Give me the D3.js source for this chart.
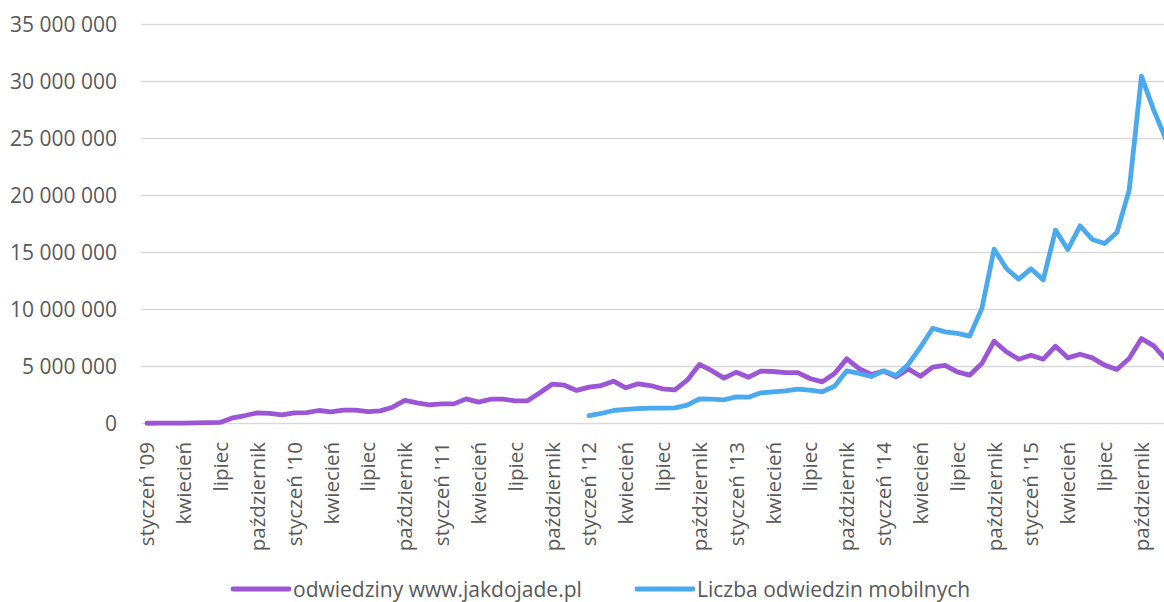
<!DOCTYPE html>
<html>
<head>
<meta charset="utf-8">
<script src="https://cdn.jsdelivr.net/npm/d3@7"></script>
<style>
  body { margin: 0; background: #fff; }
  svg { display: block; font-family: "Open Sans", sans-serif; }
  .grid line { stroke: #d9d9d9; stroke-width: 1.3; }
  .tick-y { fill: #595959; font-size: 21px; text-anchor: end; }
  .tick-x { fill: #595959; font-size: 20.5px; text-anchor: end; }
  .legend text { fill: #595959; font-size: 21px; }
  .series { fill: none; stroke-width: 4.8; stroke-linejoin: round; stroke-linecap: round; }
</style>
</head>
<body>
<svg width="1164" height="602"></svg>
<script>
// months from styczeń 2009 to grudzień 2015
const months = d3.timeMonth.range(new Date(2009, 0, 1), new Date(2016, 0, 1));

// labels shown under every third month
const tickLabels = [
  "styczeń '09", "kwiecień", "lipiec", "październik",
  "styczeń '10", "kwiecień", "lipiec", "październik",
  "styczeń '11", "kwiecień", "lipiec", "październik",
  "styczeń '12", "kwiecień", "lipiec", "październik",
  "styczeń '13", "kwiecień", "lipiec", "październik",
  "styczeń '14", "kwiecień", "lipiec", "październik",
  "styczeń '15", "kwiecień", "lipiec", "październik"
];

// odwiedziny www.jakdojade.pl (millions)
const visits = [
  0.02, 0.03, 0.03, 0.04, 0.05, 0.07, 0.1, 0.5, 0.7, 0.94,
  0.88, 0.76, 0.93, 0.96, 1.14, 1.02, 1.17, 1.17, 1.05, 1.11,
  1.43, 2.02, 1.81, 1.64, 1.72, 1.72, 2.16, 1.87, 2.13, 2.13,
  1.99, 1.99, 2.69, 3.45, 3.36, 2.9, 3.19, 3.33, 3.71, 3.13,
  3.48, 3.33, 3.04, 2.95, 3.8, 5.18, 4.63, 3.98, 4.5, 4.06,
  4.59, 4.56, 4.47, 4.47, 3.95, 3.65, 4.39, 5.67, 4.82, 4.3,
  4.59, 4.09, 4.79, 4.15, 4.94, 5.1, 4.53, 4.24, 5.26, 7.22,
  6.29, 5.64, 5.99, 5.64, 6.78, 5.76, 6.08, 5.76, 5.12, 4.74,
  5.7, 7.46, 6.81, 5.6
];

// liczba odwiedzin mobilnych (millions), no data before 2012
const mobile = [
  null, null, null, null, null, null, null, null, null, null,
  null, null, null, null, null, null, null, null, null, null,
  null, null, null, null, null, null, null, null, null, null,
  null, null, null, null, null, null, 0.7, 0.88, 1.14, 1.23,
  1.3, 1.34, 1.35, 1.37, 1.61, 2.16, 2.13, 2.08, 2.34, 2.31,
  2.69, 2.78, 2.87, 3.01, 2.92, 2.78, 3.27, 4.62, 4.39, 4.12,
  4.62, 4.21, 5.18, 6.69, 8.36, 8.04, 7.9, 7.66, 10.09, 15.29,
  13.6, 12.66, 13.57, 12.6, 16.96, 15.26, 17.34, 16.14, 15.79, 16.75,
  20.47, 30.47, 27.49, 24.9
];

const yTicks = [0, 5e6, 10e6, 15e6, 20e6, 25e6, 30e6, 35e6];

const seriesNames = ["odwiedziny www.jakdojade.pl", "Liczba odwiedzin mobilnych"];
const seriesColors = ["#9c55d4", "#4ba9ee"];

const svg = d3.select("svg");

// scales
const xScale = d3.scalePoint().domain(d3.range(months.length)).range([147, 1166]);
const yScale = d3.scaleLinear().domain([0, 35e6]).range([423.5, 24.5]);

// number format with space as thousands separator
const plFormat = d3.formatLocale({
  decimal: ",",
  thousands: " ",
  grouping: [3],
  currency: ["", ""]
}).format(",d");

// gridlines
const grid = svg.append("g").attr("class", "grid");
grid
  .selectAll("line")
  .data(yTicks)
  .enter()
  .append("line")
  .attr("x1", 141)
  .attr("x2", 1164)
  .attr("y1", d => yScale(d))
  .attr("y2", d => yScale(d));

// y labels
svg
  .selectAll("text.tick-y")
  .data(yTicks)
  .enter()
  .append("text")
  .attr("class", "tick-y")
  .attr("x", 117)
  .attr("y", d => yScale(d))
  .attr("dy", "0.36em")
  .text(d => plFormat(d));

// x labels, rotated
svg
  .selectAll("text.tick-x")
  .data(tickLabels)
  .enter()
  .append("text")
  .attr("class", "tick-x")
  .attr("transform", (d, i) => `translate(${xScale(i * 3)},442) rotate(-90)`)
  .attr("dy", "0.36em")
  .text(d => d);

// lines
const line = d3
  .line()
  .defined(d => d.v !== null)
  .x(d => xScale(d.i))
  .y(d => yScale(d.v * 1e6));

[visits, mobile].forEach((values, k) => {
  svg
    .append("path")
    .datum(values.map((v, i) => ({ i: i, v: v })))
    .attr("class", "series")
    .attr("stroke", seriesColors[k])
    .attr("d", line);
});

// legend
const legendX = [233, 637];
const legend = svg
  .selectAll("g.legend")
  .data(seriesNames)
  .enter()
  .append("g")
  .attr("class", "legend")
  .attr("transform", (d, i) => `translate(${legendX[i]},589)`);
legend
  .append("line")
  .attr("x1", 0)
  .attr("x2", 56)
  .attr("stroke", (d, i) => seriesColors[i])
  .attr("stroke-width", 4.8)
  .attr("stroke-linecap", "round");
legend
  .append("text")
  .attr("x", 60)
  .attr("dy", "0.36em")
  .text(d => d);
</script>
</body>
</html>
